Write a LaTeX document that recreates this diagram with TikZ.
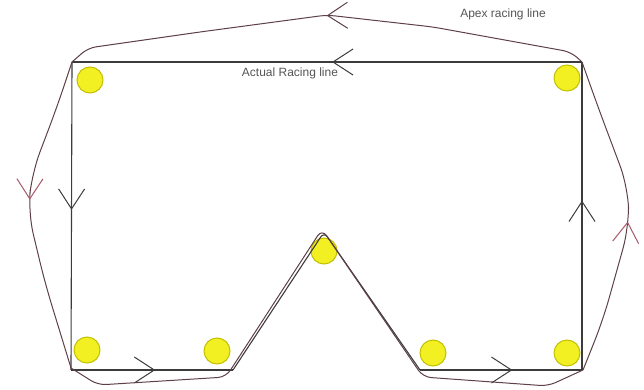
\documentclass[tikz,border=0pt]{standalone}
\usepackage{fontspec}
\setmainfont{Liberation Sans}
\usetikzlibrary{arrows.meta,decorations.markings}
\definecolor{trackc}{HTML}{3C3C3C}
\definecolor{apexc}{HTML}{5E4048}
\definecolor{apexarr}{HTML}{A85868}
\definecolor{conefill}{HTML}{F2F022}
\definecolor{coneedge}{HTML}{C2C000}
\definecolor{labelc}{HTML}{555555}
\tikzset{
 actual/.style={draw=trackc, line width=1.1pt},
 apex/.style={draw=apexc, line width=1pt},
 cone/.style={circle, fill=conefill, draw=coneedge, line width=1pt, minimum size=26pt, inner sep=0pt},
 lbl/.style={text=labelc, font=\fontsize{12}{14}\selectfont, inner sep=0pt},
 markat/.style 2 args={postaction={decorate, decoration={markings, mark=at position #2 with {\arrow[#1, line width=1pt]{Straight Barb[length=20pt,width=26pt]}}}}},
}
\begin{document}
\begin{tikzpicture}[x=1pt,y=-1pt]
\useasboundingbox (0,0) rectangle (644,390);
% cones
\node[cone] (c1) at (90,80) {};
\node[cone] (c2) at (567,78) {};
\node[cone] (c3) at (87,350) {};
\node[cone] (c4) at (217,351) {};
\node[cone] (c5) at (324,251) {};
\node[cone] (c6) at (433,353) {};
\node[cone] (c7) at (567,353) {};
% actual racing line corners
\coordinate (A1) at (72,62);
\coordinate (A2) at (582,62);
\coordinate (A3) at (582,370);
\coordinate (A4) at (420,370);
\coordinate (A5) at (324,232);
\coordinate (A6) at (233,370);
\coordinate (A7) at (71,370);
\draw[actual, markat={trackc}{0.49}] (A2) -- (A1);
\draw[actual, markat={trackc}{0.48}] (A1) -- (A7);
\draw[actual, markat={trackc}{0.52}] (A7) -- (A6);
\draw[actual, rounded corners=6pt] (A6) -- (A5) -- (A4);
\draw[actual, markat={trackc}{0.57}] (A4) -- (A3);
\draw[actual, markat={trackc}{0.55}] (A3) -- (A2);
% apex racing line
\draw[apex, rounded corners=8pt, markat={apexc}{0.5}] (A2) -- (571,52) -- (433,27) -- (327,15) -- (200,32) -- (88,48) -- (A1);
\draw[apex, rounded corners=22pt, markat={apexarr}{0.47}] (A1) -- (57,107) -- (32,173) -- (28,212) -- (45,283) -- (71,368);
\draw[apex, rounded corners=8pt] (71,368) -- (98,385) -- (226,377) -- (322,229) -- (423,377) -- (548,386) -- (583,370);
\draw[apex, rounded corners=22pt, markat={apexarr}{0.47}] (583,370) -- (603,320) -- (629,227) -- (628,187) -- (598,107) -- (A2);
% labels
\node[lbl] (l1) at (503,14) {Apex racing line};
\node[lbl] (l2) at (290,73) {Actual Racing line};
\end{tikzpicture}
\end{document}
